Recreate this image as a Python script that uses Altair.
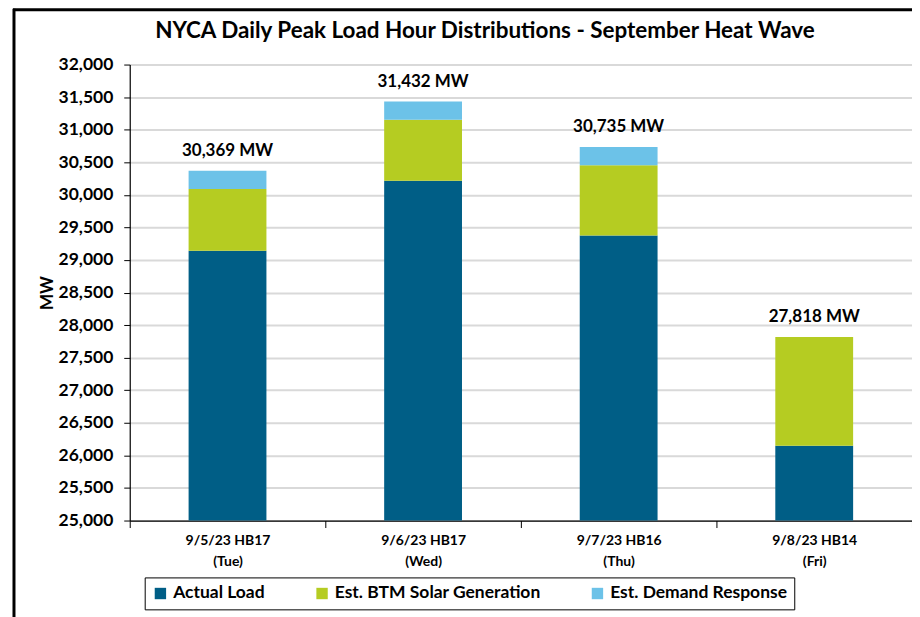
import altair as alt
import pandas as pd

categories = ["9/5/23 HB17|(Tue)", "9/6/23 HB17|(Wed)", "9/7/23 HB16|(Thu)", "9/8/23 HB14|(Fri)"]
series = ["Actual Load", "Est. BTM Solar Generation", "Est. Demand Response"]
actual_load = [29143, 30215, 29374, 26149]
btm_solar = [945, 939, 1082, 1669]
demand_response = [281, 278, 279, 0]
totals = [30369, 31432, 30735, 27818]
colors = ["#005e86", "#b5cc22", "#6cc2e8"]
title_text = "NYCA Daily Peak Load Hour Distributions - September Heat Wave"

FONT = "Lato"

rows = []
for i, c in enumerate(categories):
    base = 0
    for s, vals in zip(series, [actual_load, btm_solar, demand_response]):
        v = vals[i]
        rows.append({"cat": c, "series": s, "order": series.index(s), "y0": base, "y1": base + v})
        base += v
df = pd.DataFrame(rows)
tot_df = pd.DataFrame({"cat": categories, "total": totals,
                       "label": [f"{t:,} MW" for t in totals]})

x_axis = alt.Axis(labelExpr="split(datum.label, '|')", labelAngle=0,
                  labelFont=FONT, labelFontSize=14, labelFontWeight="bold",
                  labelColor="#000000", labelPadding=6, labelLineHeight=21,
                  domainColor="#000000", domainWidth=1.2,
                  tickColor="#000000", tickSize=7, tickBand="extent",
                  grid=False)
y_axis = alt.Axis(values=list(range(25000, 32001, 500)),
                  labelExpr="format(datum.value, ',.0f')",
                  labelFont=FONT, labelFontSize=17.5, labelFontWeight="bold",
                  labelColor="#000000", labelPadding=11,
                  titleFont=FONT, titleFontSize=17, titleFontWeight="bold",
                  titleColor="#000000", titlePadding=2,
                  domainColor="#000000", domainWidth=1.2,
                  tickColor="#000000", tickSize=6,
                  gridColor="#d9d9d9", gridWidth=2)
x_enc = alt.X("cat:N", sort=categories, title=None,
              scale=alt.Scale(paddingInner=0, paddingOuter=0), axis=x_axis)
y_scale = alt.Scale(domain=[25000, 32000], zero=False, nice=False)

bars = alt.Chart(df).mark_bar(size=78, clip=True).encode(
    x=x_enc,
    y=alt.Y("y0:Q", scale=y_scale, title="MW", axis=y_axis),
    y2="y1:Q",
    color=alt.Color("series:N", sort=series,
                    scale=alt.Scale(domain=series, range=colors),
                    legend=alt.Legend(title=None, orient="none", direction="horizontal",
                                      legendX=15, legendY=514,
                                      symbolType="square", symbolSize=130,
                                      symbolStrokeWidth=0, labelLimit=400,
                                      labelFont=FONT, labelFontSize=17.5,
                                      labelFontWeight="bold", labelColor="#000000",
                                      columnPadding=48, labelOffset=4,
                                      padding=7, strokeColor="#000000",
                                      fillColor="#ffffff")),
    order=alt.Order("order:Q"),
)

labels = alt.Chart(tot_df).mark_text(font=FONT, fontSize=17, fontWeight="bold",
                                     baseline="bottom", dy=-11, color="#000000").encode(
    x=alt.X("cat:N", sort=categories, title=None, axis=x_axis),
    y=alt.Y("total:Q", scale=y_scale, title="MW", axis=y_axis),
    text="label:N",
)

title = alt.Chart(pd.DataFrame({"t": [title_text]})).mark_text(
    font=FONT, fontSize=22.5, fontWeight="bold", color="#000000",
    align="center", baseline="middle").encode(
    x=alt.value(356), y=alt.value(-34), text="t:N")

frame_left = alt.Chart(pd.DataFrame({"a": [0]})).mark_rule(
    color="#000000", strokeWidth=3, clip=False).encode(
    x=alt.value(-116), y=alt.value(-56), y2=alt.value(570))
frame_top = alt.Chart(pd.DataFrame({"a": [0]})).mark_rule(
    color="#000000", strokeWidth=3, clip=False).encode(
    x=alt.value(-117), x2=alt.value(800), y=alt.value(-55))

chart = alt.layer(bars, labels, title, frame_left, frame_top).properties(
    width=784, height=457,
    autosize=alt.AutoSizeParams(type="none"),
    padding={"left": 122, "top": 56, "right": 0, "bottom": 100},
).configure_view(stroke=None)

chart.save("out.html", embed_options={"renderer": "svg", "actions": False})
